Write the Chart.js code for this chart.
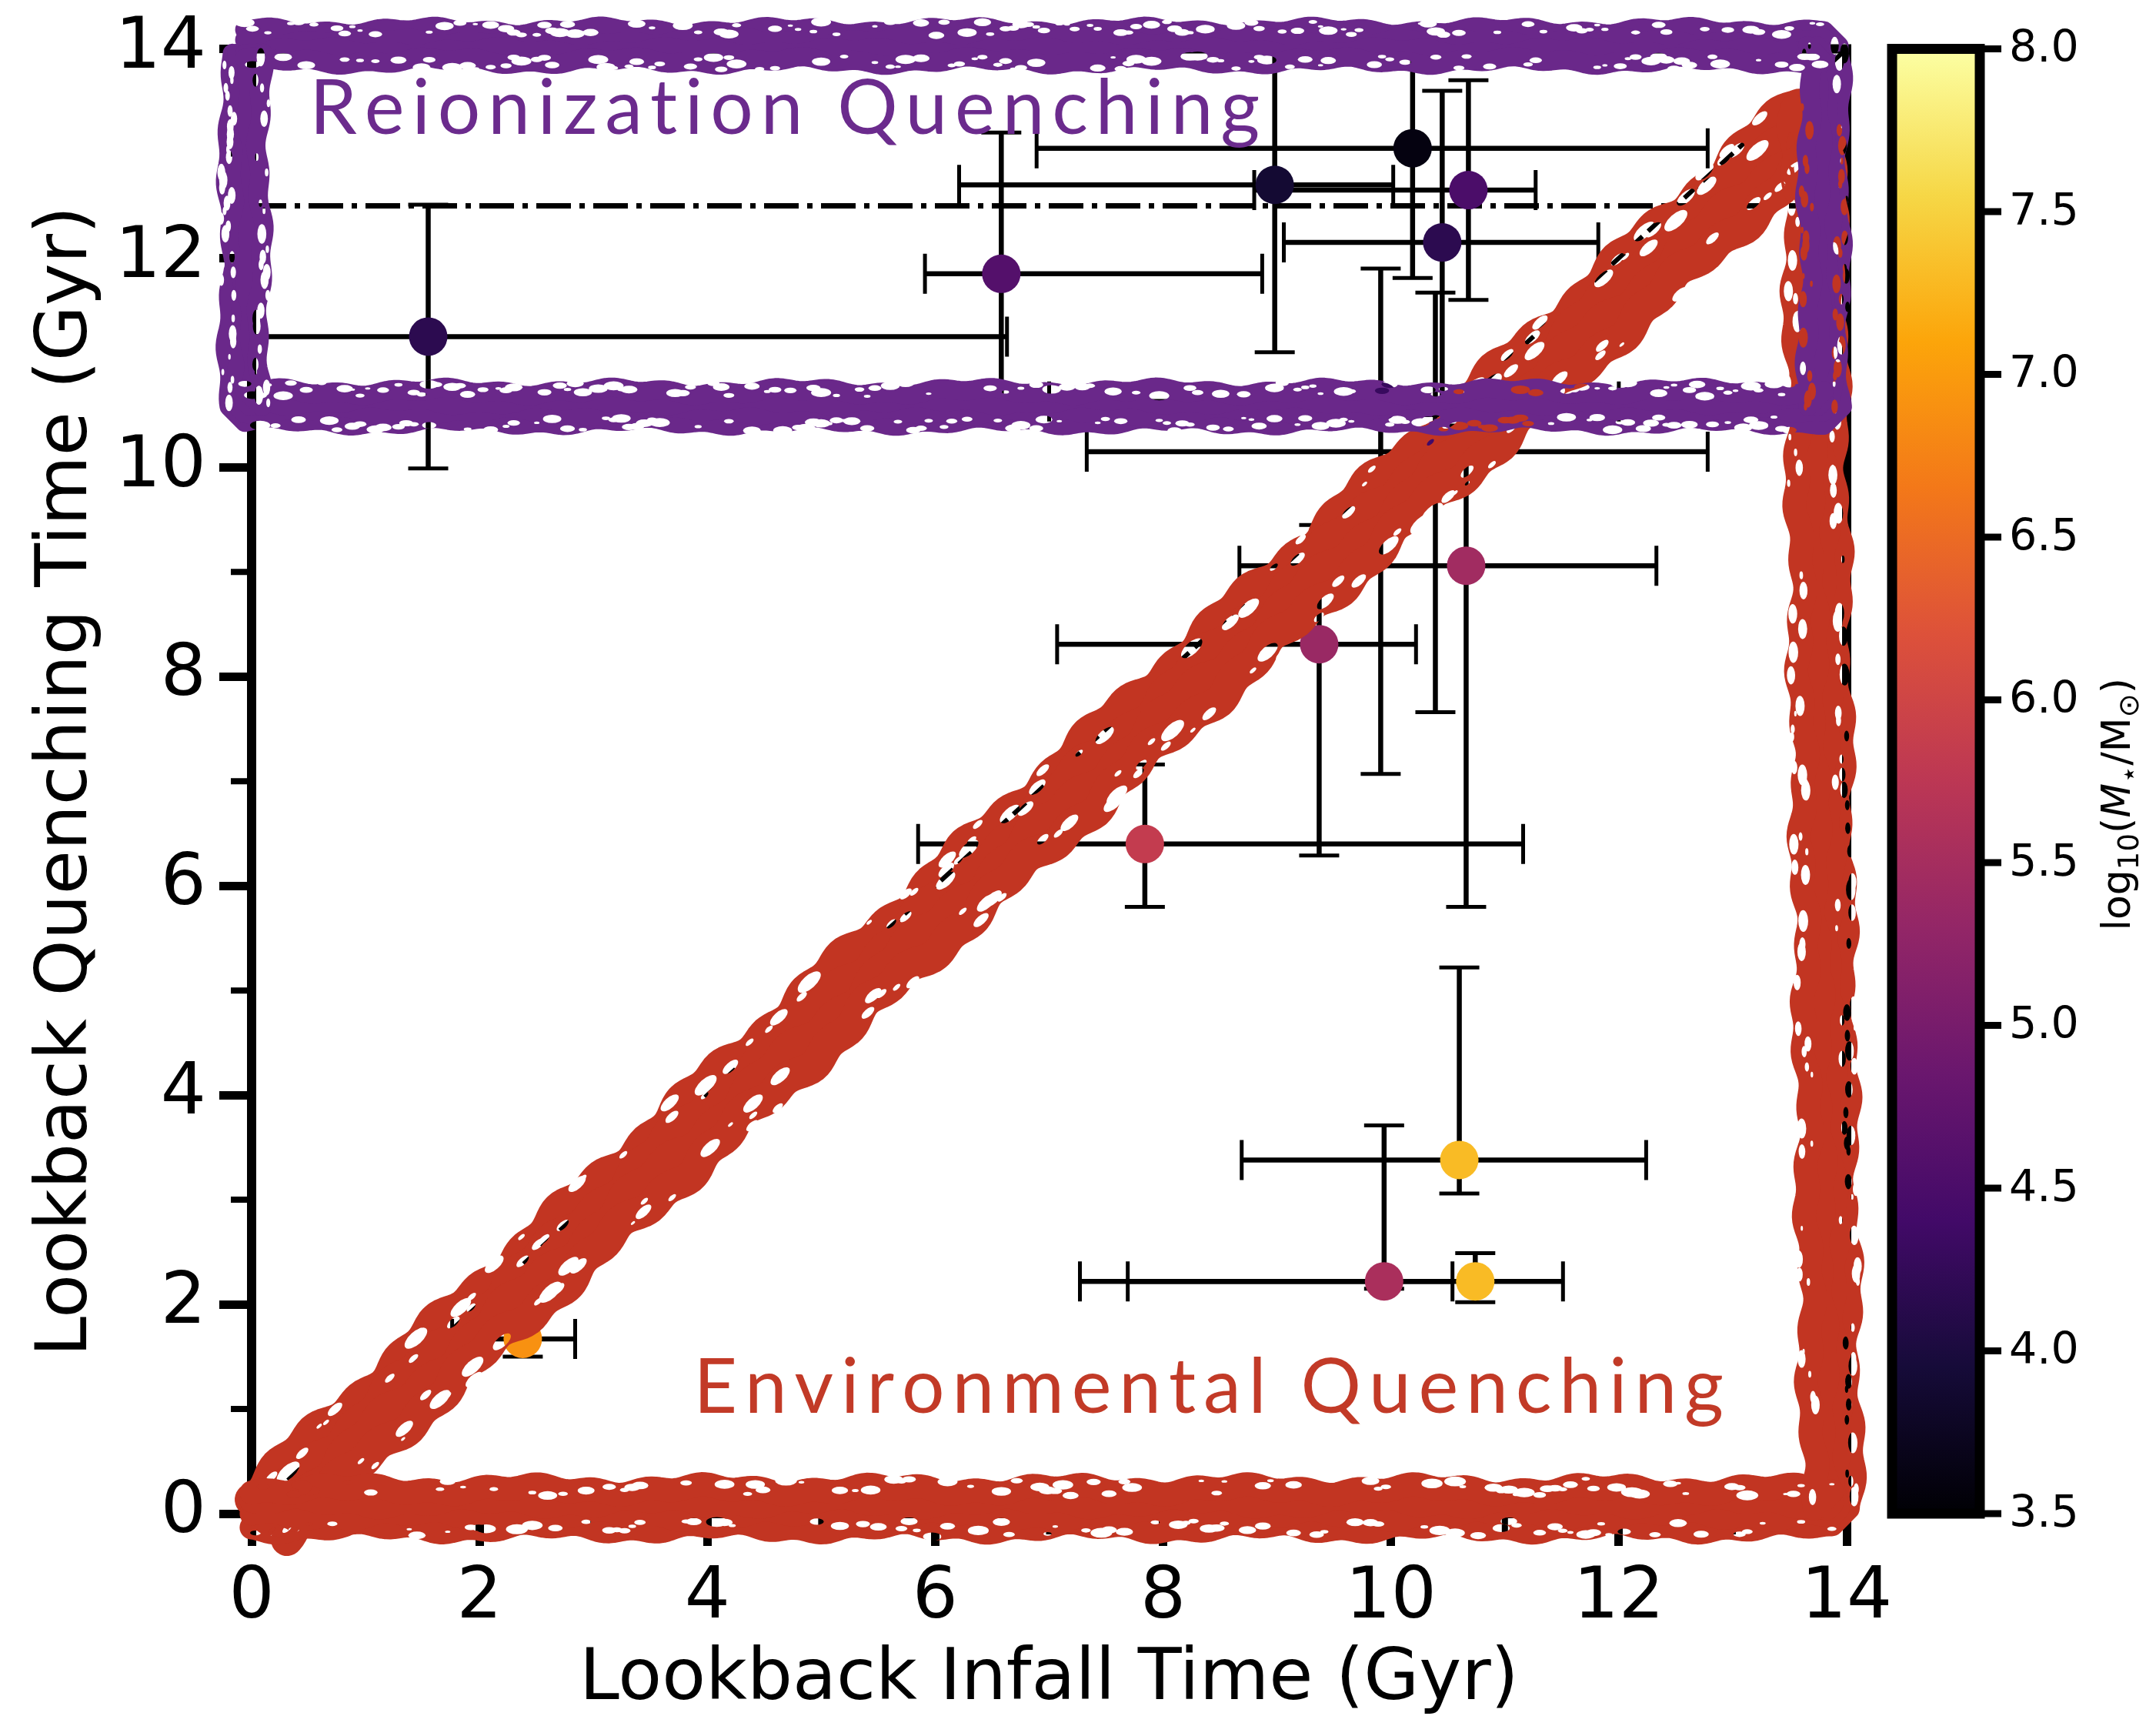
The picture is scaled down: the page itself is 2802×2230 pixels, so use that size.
<!DOCTYPE html>
<html>
<head>
<meta charset="utf-8">
<script src="https://cdn.jsdelivr.net/npm/chart.js@4.4.1/dist/chart.umd.min.js"></script>
<style>
  html, body { margin: 0; padding: 0; background: #fff; }
</style>
</head>
<body>
<canvas id="quench" width="2802" height="2230"></canvas>
<script>
// values: lookback times in Gyr, stellar mass in log10(M/Msun)
const infall   = [1.55, 6.58, 8.98, 10.19, 10.68, 10.45, 10.39, 9.91, 10.66, 9.37, 7.84, 10.60, 9.94, 10.74, 2.38];
const infallLo = [0.00, 5.91, 6.21, 6.89, 8.80, 9.06, 7.33, 7.00, 8.67, 7.07, 5.85, 8.69, 7.27, 7.69, 1.76];
const infallHi = [6.63, 8.87, 10.02, 12.78, 11.27, 11.82, 12.78, 12.00, 12.33, 10.22, 11.16, 12.24, 10.54, 11.51, 2.84];
const quench   = [11.25, 11.85, 12.70, 13.05, 12.65, 12.15, 10.15, 10.63, 9.06, 8.31, 6.40, 3.38, 2.22, 2.22, 1.67];
const quenchLo = [9.99, 10.55, 11.10, 11.81, 11.60, 10.50, 7.66, 7.07, 5.80, 6.29, 5.80, 3.06, 2.15, 2.02, 1.50];
const quenchHi = [12.51, 13.20, 14.05, 14.10, 13.70, 13.60, 11.67, 11.90, 10.40, 9.45, 7.16, 5.22, 3.71, 2.49, 1.86];
const logMass  = [4.17, 4.60, 3.90, 3.60, 4.50, 4.17, 4.40, 4.30, 5.45, 5.37, 5.84, 7.30, 5.55, 7.30, 6.90];

const majorTicks = [0, 2, 4, 6, 8, 10, 12, 14];
const minorTicks = [1, 3, 5, 7, 9, 11, 13];
const cbarTicks = [3.5, 4.0, 4.5, 5.0, 5.5, 6.0, 6.5, 7.0, 7.5, 8.0];
const reionLevel = 12.5;

// hand drawn regions, in data units
const reionBoxX = [-0.06, 13.80];
const reionBoxY = [10.58, 14.03];
const envDiagX = [0.12, 13.72];
const envDiagY = [-0.02, 13.30];
const envFrameX = [13.70, 13.87, 0.0];
const envFrameY = [13.45, 0.05, 0.05];

const inferno = ['#000004', '#160b39', '#420a68', '#6a176e', '#932667', '#bc3754',
                 '#dd513a', '#f37819', '#fca50a', '#f6d746', '#fcffa4'];
const cmin = 3.5, cmax = 8.0;

function hexRgb(h) {
  return [1, 3, 5].map(i => parseInt(h.slice(i, i + 2), 16));
}
function cmap(v) {
  let t = (v - cmin) / (cmax - cmin);
  t = Math.min(1, Math.max(0, t)) * 10;
  const i = Math.min(9, Math.floor(t));
  const f = t - i;
  const a = hexRgb(inferno[i]), b = hexRgb(inferno[i + 1]);
  const c = a.map((x, k) => Math.round(x + (b[k] - x) * f));
  return `rgb(${c[0]},${c[1]},${c[2]})`;
}

function hash(n) {
  const s = Math.sin(n * 127.1 + 311.7) * 43758.5453;
  return s - Math.floor(s);
}

// thick wobbly marker-pen stroke along a polyline (pixel corners)
function roughBand(ctx, corners, color, width, seed, holes, keep) {
  const pts = [];
  let run = 0;
  for (let k = 0; k < corners.length - 1; k++) {
    const [x0, y0] = corners[k], [x1, y1] = corners[k + 1];
    const len = Math.hypot(x1 - x0, y1 - y0);
    const tx = (x1 - x0) / len, ty = (y1 - y0) / len;
    const n = Math.max(2, Math.ceil(len / 5));
    for (let j = 0; j <= n; j++) {
      const f = j / n;
      pts.push({ x: x0 + (x1 - x0) * f, y: y0 + (y1 - y0) * f, nx: -ty, ny: tx, tx, ty, s: run + len * f });
    }
    run += len;
  }
  const off = document.createElement('canvas');
  off.width = ctx.canvas.width;
  off.height = ctx.canvas.height;
  const o = off.getContext('2d');
  o.strokeStyle = color;
  o.lineCap = 'round';
  o.lineJoin = 'round';
  [-0.3, -0.1, 0.1, 0.3].forEach((sh, si) => {
    o.lineWidth = width * 0.38;
    o.beginPath();
    pts.forEach((p, i) => {
      const w = width * (0.05 * Math.sin(p.s / 37 + seed + si * 1.9) +
                         0.035 * Math.sin(p.s / 11.3 + seed * 3 + si * 2.7));
      const d = sh * width + w;
      const X = p.x + p.nx * d, Y = p.y + p.ny * d;
      if (i) o.lineTo(X, Y); else o.moveTo(X, Y);
    });
    o.stroke();
  });
  // punch small holes near the edges, like dry ink
  o.globalCompositeOperation = 'destination-out';
  for (let i = 0; i < pts.length; i += 2) {
    const p = pts[i];
    for (const side of [-1, 1]) {
      if (hash(i * 1.37 + seed * 17 + side * 5.1) < keep) continue;
      const d = side * width * (0.2 + 0.27 * hash(i * 2.11 + seed * 3 + side));
      const r = 1.5 + holes * hash(i * 0.77 + seed + side * 9);
      o.beginPath();
      o.ellipse(p.x + p.nx * d, p.y + p.ny * d, r * 2.2, r, Math.atan2(p.ty, p.tx), 0, Math.PI * 2);
      o.fill();
    }
  }
  ctx.drawImage(off, 0, 0);
}

function spacedText(ctx, str, x0, x1, y) {
  const w = ctx.measureText(str).width;
  const extra = (x1 - x0 - w) / (str.length - 1);
  let cx = x0;
  for (const ch of str) {
    ctx.fillText(ch, cx, y);
    cx += ctx.measureText(ch).width + extra;
  }
}

const errorBars = {
  id: 'errorBars',
  beforeDatasetsDraw(chart) {
    const { ctx, chartArea: a, scales: { x, y } } = chart;
    ctx.save();
    // frame on top and right, minor ticks
    ctx.strokeStyle = '#000';
    ctx.lineWidth = 12;
    ctx.beginPath();
    ctx.moveTo(a.left, a.top); ctx.lineTo(a.right, a.top); ctx.lineTo(a.right, a.bottom);
    ctx.stroke();
    ctx.lineWidth = 8;
    ctx.beginPath();
    minorTicks.forEach(v => {
      const px = x.getPixelForValue(v), py = y.getPixelForValue(v);
      ctx.moveTo(px, a.bottom); ctx.lineTo(px, a.bottom + 27);
      ctx.moveTo(a.left, py); ctx.lineTo(a.left - 27, py);
    });
    ctx.stroke();

    ctx.beginPath();
    ctx.rect(a.left, a.top, a.width, a.height);
    ctx.clip();
    const cap = 26;
    infall.forEach((v, i) => {
      const px = x.getPixelForValue(v), py = y.getPixelForValue(quench[i]);
      const xl = x.getPixelForValue(infallLo[i]), xr = x.getPixelForValue(infallHi[i]);
      const yb = y.getPixelForValue(quenchLo[i]), yt = y.getPixelForValue(quenchHi[i]);
      ctx.lineWidth = 6.5;
      ctx.beginPath();
      ctx.moveTo(xl, py); ctx.lineTo(xr, py);
      ctx.moveTo(px, yb); ctx.lineTo(px, yt);
      ctx.stroke();
      ctx.lineWidth = 5;
      ctx.beginPath();
      ctx.moveTo(xl, py - cap); ctx.lineTo(xl, py + cap);
      ctx.moveTo(xr, py - cap); ctx.lineTo(xr, py + cap);
      ctx.moveTo(px - cap, yb); ctx.lineTo(px + cap, yb);
      ctx.moveTo(px - cap, yt); ctx.lineTo(px + cap, yt);
      ctx.stroke();
    });
    ctx.restore();
  },
  afterDatasetsDraw(chart) {
    const { ctx, scales: { x, y } } = chart;
    const diag = envDiagX.map((v, i) => [x.getPixelForValue(v), y.getPixelForValue(envDiagY[i])]);
    roughBand(ctx, diag, '#c23522', 110, 2.1, 7, 0.68);
    const frame = envFrameX.map((v, i) => [x.getPixelForValue(v), y.getPixelForValue(envFrameY[i])]);
    roughBand(ctx, frame, '#c23522', 82, 1.3, 5, 0.6);
    const bx = reionBoxX.map(v => x.getPixelForValue(v));
    const by = reionBoxY.map(v => y.getPixelForValue(v));
    const box = [[bx[0], by[1]], [bx[1], by[1]], [bx[1], by[0]], [bx[0], by[0]], [bx[0], by[1] + 10]];
    roughBand(ctx, box, '#6a288a', 66, 4.7, 4.5, 0.5);

    ctx.save();
    ctx.textBaseline = 'alphabetic';
    ctx.font = '98px Lato';
    ctx.fillStyle = '#6b2b8d';
    spacedText(ctx, 'Reionization Quenching', x.getPixelForValue(0.51), x.getPixelForValue(8.83), y.getPixelForValue(13.19));
    ctx.fillStyle = '#c23a27';
    spacedText(ctx, 'Environmental Quenching', x.getPixelForValue(3.88), x.getPixelForValue(12.88), y.getPixelForValue(0.96));
    ctx.restore();
  }
};

const colorBar = {
  id: 'colorBar',
  afterDraw(chart) {
    const { ctx, chartArea: a, scales: { cb } } = chart;
    const top = cb.getPixelForValue(cmax), bot = cb.getPixelForValue(cmin);
    const left = a.right + 59, right = a.right + 173;
    ctx.save();
    const g = ctx.createLinearGradient(0, bot, 0, top);
    inferno.forEach((c, i) => g.addColorStop(i / 10, c));
    ctx.fillStyle = g;
    ctx.fillRect(left, top, right - left, bot - top);
    ctx.strokeStyle = '#000';
    ctx.lineWidth = 13;
    ctx.strokeRect(left, top, right - left, bot - top);
    ctx.lineWidth = 9;
    ctx.fillStyle = '#000';
    ctx.font = '57px "DejaVu Sans"';
    ctx.textAlign = 'left';
    ctx.textBaseline = 'middle';
    cbarTicks.forEach(v => {
      const py = cb.getPixelForValue(v);
      ctx.beginPath();
      ctx.moveTo(right + 6, py); ctx.lineTo(right + 28, py);
      ctx.stroke();
      ctx.fillText(v.toFixed(1), right + 38, py + 2);
    });
    // colorbar label, rotated
    const parts = [
      { t: 'log', f: '52px "DejaVu Sans"', dy: 0 },
      { t: '10', f: '37px "DejaVu Sans"', dy: 11 },
      { t: '(', f: '52px "DejaVu Sans"', dy: 0 },
      { t: 'M', f: 'italic 52px "DejaVu Sans"', dy: 0 },
      { t: '\u22c6', f: '37px "DejaVu Sans"', dy: 11 },
      { t: '/', f: '52px "DejaVu Sans"', dy: 0 },
      { t: 'M', f: '52px "DejaVu Sans"', dy: 0 },
      { t: '\u2299', f: '37px "DejaVu Sans"', dy: 11 },
      { t: ')', f: '52px "DejaVu Sans"', dy: 0 }
    ];
    let total = 0;
    parts.forEach(p => { ctx.font = p.f; p.w = ctx.measureText(p.t).width; total += p.w; });
    ctx.translate(a.right + 350, (top + bot) / 2 + 30);
    ctx.rotate(-Math.PI / 2);
    ctx.textBaseline = 'alphabetic';
    let cx = -total / 2;
    parts.forEach(p => { ctx.font = p.f; ctx.fillText(p.t, cx, 18 + p.dy); cx += p.w; });
    ctx.restore();
  }
};

Chart.defaults.font.family = '"DejaVu Sans"';
Chart.defaults.color = '#000';

const axisFont = { size: 93, lineHeight: 1.0 };
const tickGrid = {
  drawOnChartArea: false,
  tickLength: 42,
  tickWidth: 11,
  tickColor: c => (majorTicks.includes(c.tick && c.tick.value) ? '#000' : 'rgba(0,0,0,0)')
};

new Chart(document.getElementById('quench'), {
  type: 'scatter',
  data: {
    datasets: [
      {
        data: infall.map((v, i) => ({ x: v, y: quench[i] })),
        pointRadius: 25,
        pointHoverRadius: 25,
        pointBorderWidth: 0,
        pointBackgroundColor: logMass.map(cmap)
      },
      {
        type: 'line',
        data: [{ x: 0, y: 0 }, { x: 14, y: 14 }],
        borderColor: '#000',
        borderWidth: 6,
        borderDash: [22, 10],
        pointRadius: 0,
        fill: false
      },
      {
        type: 'line',
        data: [{ x: 0, y: reionLevel }, { x: 14, y: reionLevel }],
        borderColor: '#000',
        borderWidth: 7,
        borderDash: [45, 11, 7, 11],
        pointRadius: 0,
        fill: false
      }
    ]
  },
  options: {
    responsive: false,
    devicePixelRatio: 1,
    animation: false,
    layout: { padding: { top: 52, right: 402, bottom: 0, left: 0 } },
    plugins: { legend: { display: false }, tooltip: { enabled: false } },
    scales: {
      x: {
        type: 'linear',
        min: 0,
        max: 14,
        afterFit: s => { s.height = 263; },
        ticks: {
          stepSize: 1,
          autoSkip: false,
          maxRotation: 0,
          padding: 22,
          font: axisFont,
          callback: v => (majorTicks.includes(v) ? String(v) : '')
        },
        grid: tickGrid,
        border: { width: 12, color: '#000' },
        title: {
          display: true,
          text: 'Lookback Infall Time (Gyr)',
          font: { size: 93 },
          padding: { top: 0, bottom: -10 }
        }
      },
      y: {
        type: 'linear',
        min: 0,
        max: 14,
        afterFit: s => { s.width = 327; },
        ticks: {
          stepSize: 1,
          autoSkip: false,
          padding: 17,
          font: axisFont,
          callback: v => (majorTicks.includes(v) ? String(v) : '')
        },
        grid: tickGrid,
        border: { width: 12, color: '#000' },
        title: {
          display: true,
          text: 'Lookback Quenching Time (Gyr)',
          font: { size: 93 },
          padding: { top: 32, bottom: 0 }
        }
      },
      cb: {
        type: 'linear',
        position: 'right',
        display: false,
        min: cmin,
        max: cmax
      }
    }
  },
  plugins: [errorBars, colorBar]
});
</script>
</body>
</html>
